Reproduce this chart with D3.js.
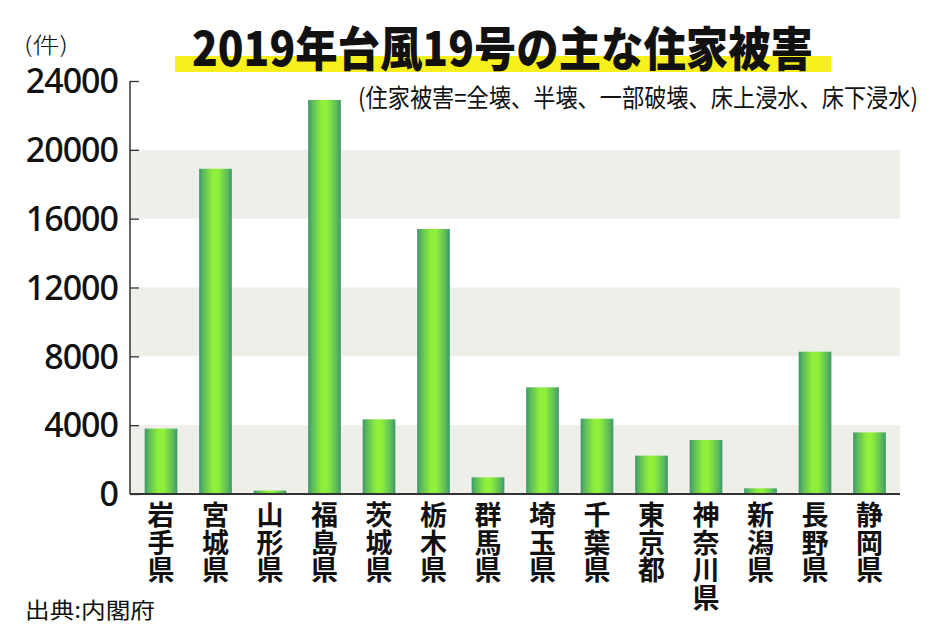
<!DOCTYPE html>
<html><head><meta charset="utf-8">
<script src="https://cdn.jsdelivr.net/npm/d3@7"></script>
<style>
html,body{margin:0;padding:0;background:#fff;}
svg{display:block;}
</style></head>
<body>
<svg id="chart" width="934" height="640"></svg>
<script>
// ---- data ----
const categories = ["岩手県","宮城県","山形県","福島県","茨城県","栃木県","群馬県","埼玉県","千葉県","東京都","神奈川県","新潟県","長野県","静岡県"];
const values = [3800, 18900, 200, 22900, 4340, 15400, 970, 6200, 4380, 2230, 3140, 330, 8270, 3580];
const yTicks = [0, 4000, 8000, 12000, 16000, 20000, 24000];
const shadedBands = [[0, 4000], [8000, 12000], [16000, 20000]];
const title = "2019年台風19号の主な住家被害";
const subtitle = "(住家被害=全壊、半壊、一部破壊、床上浸水、床下浸水)";
const unitLabel = "(件)";
const sourceLabel = "出典:内閣府";

// ---- layout ----
const svg = d3.select("#chart");
const plotLeft = 130, plotRight = 900, plotTop = 81, plotBottom = 494;
const jp = "'Noto Sans CJK JP','Noto Sans',sans-serif";

const x = d3.scaleBand().domain(categories).range([133.75, 896.75]).paddingInner(0.4).paddingOuter(0.2);
const y = d3.scaleLinear().domain([0, 24000]).range([plotBottom, plotTop]);

// gradient
const defs = svg.append("defs");
const grad = defs.append("linearGradient").attr("id", "barGrad").attr("x1", "0%").attr("x2", "100%").attr("y1", "0%").attr("y2", "0%");
[[0, "#3e976f"], [0.14, "#5ebd58"], [0.42, "#8fef3b"], [0.58, "#8fef3b"], [0.86, "#5ebd58"], [1, "#3e976f"]]
  .forEach(([o, c]) => grad.append("stop").attr("offset", o).attr("stop-color", c));

// shaded bands
svg.append("g").selectAll("rect").data(shadedBands).join("rect")
  .attr("x", plotLeft).attr("width", plotRight - plotLeft)
  .attr("y", d => y(d[1])).attr("height", d => y(d[0]) - y(d[1]))
  .attr("fill", "#efefe9");

// bars
svg.append("g").selectAll("rect").data(categories).join("rect")
  .attr("x", d => x(d)).attr("width", x.bandwidth())
  .attr("y", (d, i) => y(values[i])).attr("height", (d, i) => y(0) - y(values[i]))
  .attr("fill", "url(#barGrad)");

// y axis
const yAxis = d3.axisRight(y).tickValues(yTicks).tickSize(9).tickFormat("");
const gy = svg.append("g").attr("transform", `translate(${plotLeft},0)`).call(yAxis);
gy.select(".domain").remove();
gy.selectAll(".tick line").attr("stroke", "#333").attr("stroke-width", 1.3);
svg.append("line").attr("x1", plotLeft).attr("x2", plotLeft).attr("y1", y(24000)).attr("y2", y(0))
  .attr("stroke", "#333").attr("stroke-width", 1.5);

// y tick labels
svg.append("g").selectAll("text").data(yTicks).join("text")
  .attr("x", 118).attr("y", d => y(d)).attr("dy", "0.36em")
  .attr("text-anchor", "end")
  .attr("font-family", "'Noto Sans',sans-serif").attr("font-weight", 500)
  .attr("font-size", 34).attr("letter-spacing", -1).attr("fill", "#111")
  .text(d => d);

// baseline
svg.append("line").attr("x1", plotLeft).attr("x2", plotRight).attr("y1", y(0)).attr("y2", y(0))
  .attr("stroke", "#333").attr("stroke-width", 1.8);

// x labels (vertical)
const xl = svg.append("g").selectAll("text").data(categories).join("text")
  .attr("text-anchor", "middle")
  .attr("font-family", jp).attr("font-weight", 700).attr("font-size", 27).attr("fill", "#111");
xl.each(function(d) {
  const t = d3.select(this);
  Array.from(d).forEach((ch, i) => {
    t.append("tspan").attr("x", x(d) + x.bandwidth() / 2).attr("y", 525 + i * 27.7).text(ch);
  });
});

// title highlight
svg.append("rect").attr("x", 175).attr("y", 56).attr("width", 656).attr("height", 16).attr("fill", "#f7f01c");
svg.append("text").attr("x", 192).attr("y", 66)
  .attr("font-family", jp).attr("font-weight", 900).attr("font-size", 47)
  .attr("textLength", 621).attr("lengthAdjust", "spacingAndGlyphs")
  .attr("fill", "#111").text(title);

// subtitle
svg.append("text").attr("x", 358).attr("y", 107)
  .attr("font-family", jp).attr("font-weight", 400).attr("font-size", 25)
  .attr("textLength", 560).attr("lengthAdjust", "spacingAndGlyphs")
  .attr("fill", "#111").text(subtitle);

// unit
svg.append("text").attr("x", 24).attr("y", 53)
  .attr("font-family", jp).attr("font-weight", 300).attr("font-size", 22)
  .attr("textLength", 44).attr("lengthAdjust", "spacingAndGlyphs")
  .attr("fill", "#111").text(unitLabel);

// source
svg.append("text").attr("x", 25).attr("y", 618)
  .attr("font-family", jp).attr("font-weight", 400).attr("font-size", 22)
  .attr("textLength", 130).attr("lengthAdjust", "spacingAndGlyphs")
  .attr("fill", "#111").text(sourceLabel);
</script>
</body></html>
